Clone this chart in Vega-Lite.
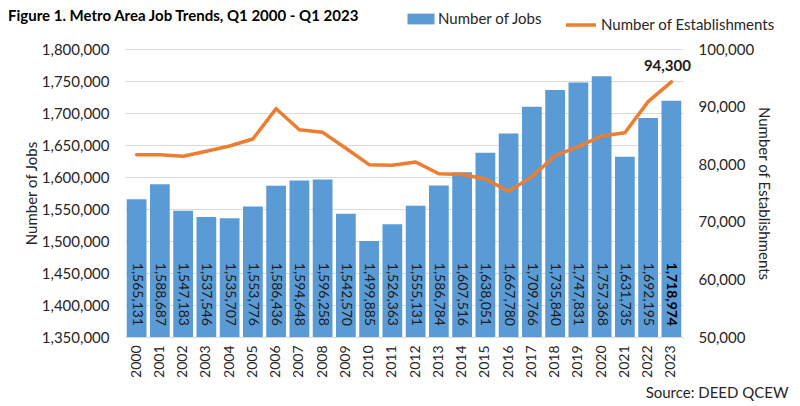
{
  "$schema": "https://vega.github.io/schema/vega-lite/v6.json",
  "width": 558,
  "height": 288,
  "autosize": "none",
  "padding": {"left": 125, "top": 49, "right": 117, "bottom": 69},
  "background": "white",
  "config": {
    "font": "Lato",
    "view": {"stroke": null},
    "axis": {"labelFont": "Lato", "titleFont": "Lato", "labelColor": "#262626", "titleColor": "#262626", "titleFontWeight": "normal"}
  },
  "title": {
    "text": "Figure 1. Metro Area Job Trends, Q1 2000 - Q1 2023",
    "anchor": "start",
    "frame": "group",
    "dx": -117,
    "offset": 0,
    "dy": 16,
    "fontSize": 15,
    "fontWeight": "bold",
    "color": "#000000",
    "font": "Lato"
  },
  "data": {
    "values": [
      {"year": "2000", "jobs": 1565131, "estab": 81650},
      {"year": "2001", "jobs": 1588687, "estab": 81650},
      {"year": "2002", "jobs": 1547183, "estab": 81370},
      {"year": "2003", "jobs": 1537546, "estab": 82240},
      {"year": "2004", "jobs": 1535707, "estab": 83160},
      {"year": "2005", "jobs": 1553776, "estab": 84370},
      {"year": "2006", "jobs": 1586436, "estab": 89640},
      {"year": "2007", "jobs": 1594648, "estab": 85990},
      {"year": "2008", "jobs": 1596258, "estab": 85530},
      {"year": "2009", "jobs": 1542570, "estab": 82760},
      {"year": "2010", "jobs": 1499885, "estab": 79920},
      {"year": "2011", "jobs": 1526363, "estab": 79800},
      {"year": "2012", "jobs": 1555131, "estab": 80380},
      {"year": "2013", "jobs": 1586784, "estab": 78350},
      {"year": "2014", "jobs": 1607516, "estab": 78200},
      {"year": "2015", "jobs": 1638051, "estab": 77430},
      {"year": "2016", "jobs": 1667780, "estab": 75290},
      {"year": "2017", "jobs": 1709766, "estab": 77840},
      {"year": "2018", "jobs": 1735840, "estab": 81480},
      {"year": "2019", "jobs": 1747831, "estab": 83040},
      {"year": "2020", "jobs": 1757368, "estab": 84900},
      {"year": "2021", "jobs": 1631735, "estab": 85470},
      {"year": "2022", "jobs": 1692195, "estab": 90860},
      {"year": "2023", "jobs": 1718974, "estab": 94300}
    ]
  },
  "encoding": {
    "x": {
      "field": "year",
      "type": "nominal",
      "sort": null,
      "scale": {"paddingInner": 0.15, "paddingOuter": 0.075},
      "axis": {
        "title": "Source: DEED QCEW",
        "titleAnchor": "end",
        "titleAlign": "right",
        "titleBaseline": "middle",
        "titleX": 663,
        "titleY": 55,
        "titleFontSize": 15,
        "labelAngle": -90,
        "labelFontSize": 14,
        "labelPadding": 8,
        "ticks": false,
        "domain": true,
        "domainColor": "#D9D9D9",
        "domainWidth": 1
      }
    }
  },
  "layer": [
    {
      "mark": {"type": "bar", "clip": true},
      "encoding": {
        "y": {
          "field": "jobs",
          "type": "quantitative",
          "scale": {"domain": [1350000, 1800000], "nice": false, "zero": false},
          "axis": {
            "title": "Number of Jobs",
            "titleFontSize": 15,
            "titlePadding": 2,
            "values": [1350000, 1400000, 1450000, 1500000, 1550000, 1600000, 1650000, 1700000, 1750000, 1800000],
            "labelExpr": "format(datum.value, ',')",
            "labelFontSize": 15,
            "labelPadding": 16,
            "ticks": false,
            "domain": false,
            "grid": true,
            "gridColor": "#D9D9D9",
            "gridWidth": 1
          }
        },
        "fill": {
          "datum": "Number of Jobs",
          "type": "nominal",
          "scale": {"range": ["#5B9BD5"]},
          "legend": {
            "title": null,
            "orient": "none",
            "legendX": 285,
            "legendY": -41,
            "symbolType": "M-1.25,-0.5H1.25V0.5H-1.25Z",
            "symbolSize": 467,
            "symbolStrokeWidth": 0,
            "labelFontSize": 15,
            "labelColor": "#262626",
            "labelOffset": 6,
            "labelLimit": 300,
            "padding": 0
          }
        }
      }
    },
    {
      "layer": [
        {
          "transform": [{"filter": "datum.year != '2023'"}],
          "mark": {"type": "text", "angle": 90, "align": "right", "baseline": "middle", "dx": -11, "fontSize": 14, "color": "#1a1a1a"},
          "encoding": {
            "y": {"datum": 1350000, "type": "quantitative", "scale": {"domain": [1350000, 1800000], "nice": false, "zero": false}, "axis": null},
            "text": {"field": "jobs", "type": "quantitative", "format": ","}
          }
        },
        {
          "transform": [{"filter": "datum.year == '2023'"}],
          "mark": {"type": "text", "angle": 90, "align": "right", "baseline": "middle", "dx": -11, "fontSize": 14, "fontWeight": "bold", "color": "#000000"},
          "encoding": {
            "y": {"datum": 1350000, "type": "quantitative", "scale": {"domain": [1350000, 1800000], "nice": false, "zero": false}, "axis": null},
            "text": {"field": "jobs", "type": "quantitative", "format": ","}
          }
        }
      ]
    },
    {
      "layer": [
        {
          "mark": {"type": "line", "strokeWidth": 3.5, "strokeJoin": "round", "strokeCap": "round"},
          "encoding": {
            "y": {
              "field": "estab",
              "type": "quantitative",
              "scale": {"domain": [50000, 100000], "nice": false, "zero": false},
              "axis": {
                "orient": "right",
                "title": "Number of Establishments",
                "titleFontSize": 15,
                "titlePadding": 2,
                "values": [50000, 55000, 60000, 65000, 70000, 75000, 80000, 85000, 90000, 95000, 100000],
                "labelExpr": "format(datum.value, ',')",
                "labelFontSize": 15,
                "labelPadding": 15,
                "ticks": false,
                "domain": false,
                "grid": false
              }
            },
            "stroke": {
              "datum": "Number of Establishments",
              "type": "nominal",
              "scale": {"range": ["#ED7D31"]},
              "legend": {
                "title": null,
                "orient": "none",
                "legendX": 439,
                "legendY": -41,
                "symbolType": "stroke",
                "symbolSize": 900,
                "symbolStrokeWidth": 3.5,
                "labelFontSize": 15,
                "labelColor": "#262626",
                "labelOffset": 3,
                "labelLimit": 300,
                "padding": 0
              }
            }
          }
        },
        {
          "transform": [{"filter": "datum.year == '2023'"}],
          "mark": {"type": "text", "align": "center", "baseline": "middle", "dy": -16, "dx": -4, "fontSize": 15, "fontWeight": "bold", "color": "#1a1a1a"},
          "encoding": {
            "y": {"field": "estab", "type": "quantitative"},
            "text": {"field": "estab", "type": "quantitative", "format": ","}
          }
        }
      ]
    }
  ],
  "resolve": {"scale": {"y": "independent"}}
}
